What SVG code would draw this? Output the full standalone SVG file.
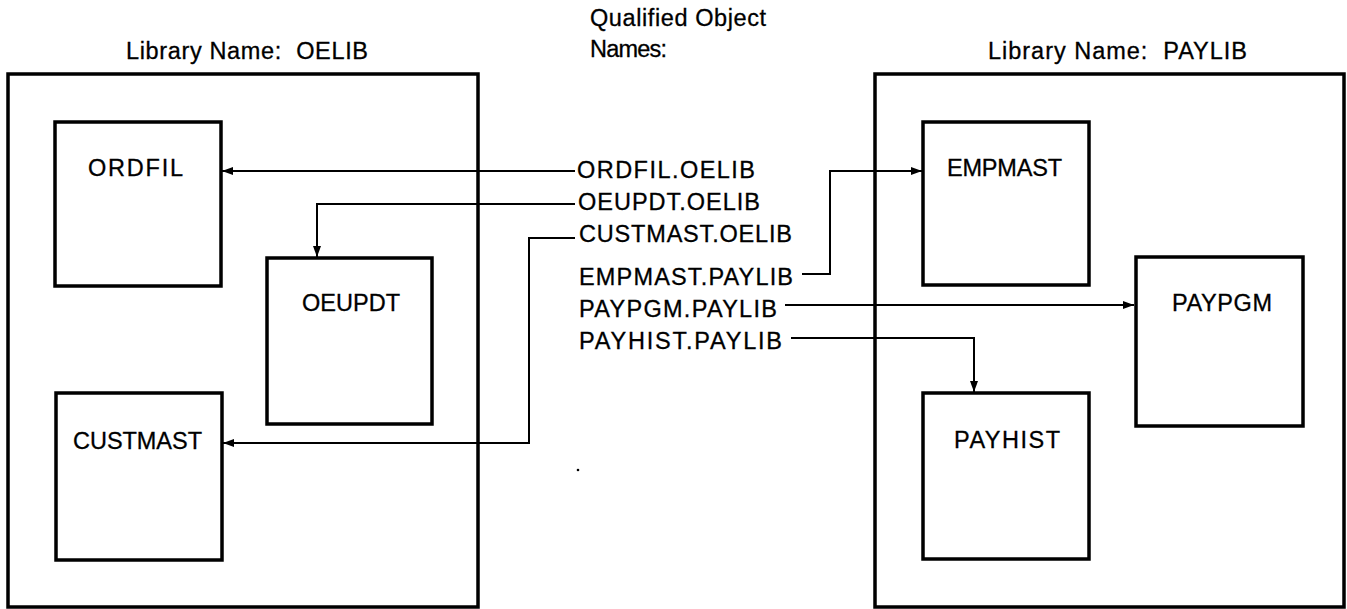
<svg xmlns="http://www.w3.org/2000/svg" width="1347" height="609" viewBox="0 0 1347 609">
<style>
.frame{fill:none;stroke:#000;stroke-width:3.5}
.box{fill:none;stroke:#000;stroke-width:3.5}
.conn{fill:none;stroke:#000;stroke-width:2}
text{font-family:"Liberation Sans",Arial,sans-serif;font-size:23.5px;fill:#000;stroke:#000;stroke-width:0.3}
</style>
<defs>
<marker id="ah" markerUnits="userSpaceOnUse" markerWidth="11" markerHeight="8" refX="11" refY="4" orient="auto">
<path d="M0,0 L11,4 L0,8 z" fill="#000"/>
</marker>
</defs>
<rect width="1347" height="609" fill="#fff"/>

<g id="lib-oelib">
<text x="126" y="59" textLength="242" lengthAdjust="spacing" xml:space="preserve">Library Name:&#160; OELIB</text>
<rect class="frame" x="8" y="74" width="470" height="533"/>
</g>
<g id="lib-paylib">
<text x="988" y="59" textLength="259" lengthAdjust="spacing" xml:space="preserve">Library Name:&#160; PAYLIB</text>
<rect class="frame" x="875" y="74" width="469" height="533"/>
</g>

<g id="heading">
<text x="590" y="26" textLength="176" lengthAdjust="spacing">Qualified Object</text>
<text x="590" y="57" textLength="77" lengthAdjust="spacing">Names:</text>
</g>

<g id="node-ordfil">
<rect class="box" x="55" y="122" width="166" height="164"/>
<text x="88" y="176" textLength="95" lengthAdjust="spacing">ORDFIL</text>
</g>
<g id="node-oeupdt">
<rect class="box" x="267" y="258" width="165" height="166"/>
<text x="302" y="311" textLength="98" lengthAdjust="spacing">OEUPDT</text>
</g>
<g id="node-custmast">
<rect class="box" x="56" y="393" width="166" height="167"/>
<text x="73" y="449" textLength="129" lengthAdjust="spacing">CUSTMAST</text>
</g>
<g id="node-empmast">
<rect class="box" x="923" y="122" width="166" height="163"/>
<text x="947" y="176" textLength="115" lengthAdjust="spacing">EMPMAST</text>
</g>
<g id="node-paypgm">
<rect class="box" x="1136" y="257" width="167" height="169"/>
<text x="1172" y="311" textLength="100" lengthAdjust="spacing">PAYPGM</text>
</g>
<g id="node-payhist">
<rect class="box" x="923" y="393" width="166" height="166"/>
<text x="954" y="448" textLength="106" lengthAdjust="spacing">PAYHIST</text>
</g>

<g id="qualified-names">
<text x="577" y="178" textLength="178" lengthAdjust="spacing">ORDFIL.OELIB</text>
<text x="578" y="210" textLength="182" lengthAdjust="spacing">OEUPDT.OELIB</text>
<text x="579" y="242" textLength="213" lengthAdjust="spacing">CUSTMAST.OELIB</text>
<text x="579" y="285" textLength="214" lengthAdjust="spacing">EMPMAST.PAYLIB</text>
<text x="579" y="317" textLength="198" lengthAdjust="spacing">PAYPGM.PAYLIB</text>
<text x="579" y="349" textLength="203" lengthAdjust="spacing">PAYHIST.PAYLIB</text>
</g>

<g id="connectors">
<path class="conn" d="M575,171 H222" marker-end="url(#ah)"/>
<path class="conn" d="M575,204 H317 V257" marker-end="url(#ah)"/>
<path class="conn" d="M575,238 H529 V443 H223" marker-end="url(#ah)"/>
<path class="conn" d="M802,274 H830 V171 H922" marker-end="url(#ah)"/>
<path class="conn" d="M785,305 H1134" marker-end="url(#ah)"/>
<path class="conn" d="M791,338 H974 V392" marker-end="url(#ah)"/>
</g>

<circle cx="578" cy="470" r="1.3" fill="#000"/>
</svg>
